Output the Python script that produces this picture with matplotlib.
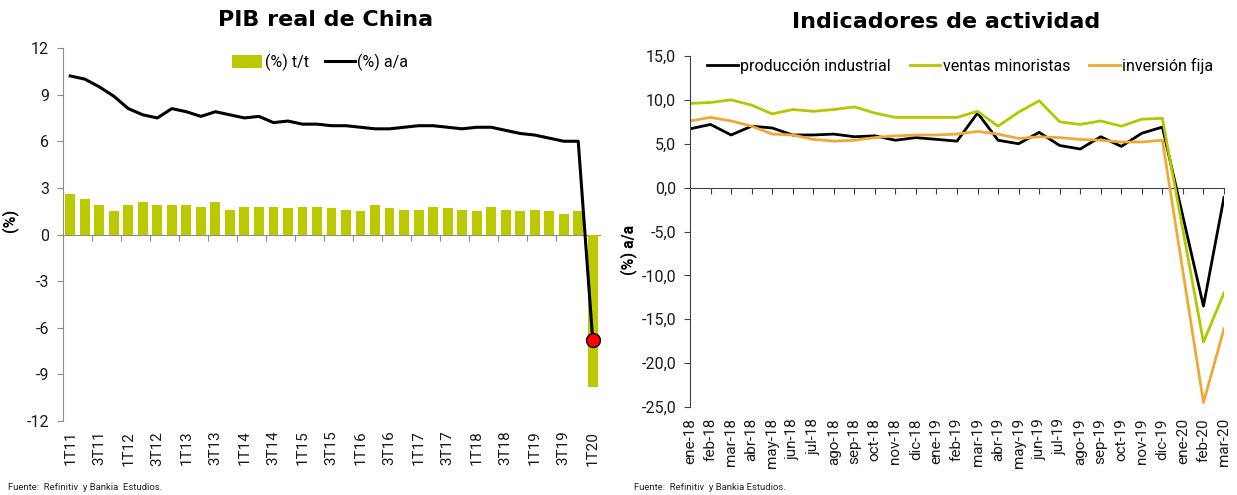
import matplotlib
matplotlib.use('Agg')
import matplotlib.pyplot as plt
import numpy as np

plt.rcParams['font.family'] = ['Roboto', 'DejaVu Sans']

# ---------------- data: left chart ----------------
quarters = ['1T11', '2T11', '3T11', '4T11', '1T12', '2T12', '3T12', '4T12',
            '1T13', '2T13', '3T13', '4T13', '1T14', '2T14', '3T14', '4T14',
            '1T15', '2T15', '3T15', '4T15', '1T16', '2T16', '3T16', '4T16',
            '1T17', '2T17', '3T17', '4T17', '1T18', '2T18', '3T18', '4T18',
            '1T19', '2T19', '3T19', '4T19', '1T20']
gdp_qoq = [2.6, 2.3, 1.9, 1.5, 1.9, 2.1, 1.9, 1.9, 1.9, 1.8, 2.1, 1.6,
           1.8, 1.8, 1.8, 1.7, 1.8, 1.8, 1.7, 1.6, 1.5, 1.9, 1.7, 1.6,
           1.6, 1.8, 1.7, 1.6, 1.5, 1.8, 1.6, 1.5, 1.6, 1.5, 1.3, 1.5, -9.8]
gdp_yoy = [10.2, 10.0, 9.5, 8.9, 8.1, 7.7, 7.5, 8.1, 7.9, 7.6, 7.9, 7.7,
           7.5, 7.6, 7.2, 7.3, 7.1, 7.1, 7.0, 7.0, 6.9, 6.8, 6.8, 6.9,
           7.0, 7.0, 6.9, 6.8, 6.9, 6.9, 6.7, 6.5, 6.4, 6.2, 6.0, 6.0, -6.8]
left_yticks = [-12, -9, -6, -3, 0, 3, 6, 9, 12]

# ---------------- data: right chart ----------------
months = ['ene-18', 'feb-18', 'mar-18', 'abr-18', 'may-18', 'jun-18', 'jul-18',
          'ago-18', 'sep-18', 'oct-18', 'nov-18', 'dic-18', 'ene-19', 'feb-19',
          'mar-19', 'abr-19', 'may-19', 'jun-19', 'jul-19', 'ago-19', 'sep-19',
          'oct-19', 'nov-19', 'dic-19', 'ene-20', 'feb-20', 'mar-20']
prod_industrial = [6.7, 7.2, 6.0, 7.0, 6.8, 6.0, 6.0, 6.1, 5.8, 5.9, 5.4, 5.7,
                   5.5, 5.3, 8.5, 5.4, 5.0, 6.3, 4.8, 4.4, 5.8, 4.7, 6.2, 6.9,
                   np.nan, -13.5, -1.1]
ventas_minoristas = [9.6, 9.7, 10.0, 9.4, 8.4, 8.9, 8.7, 8.9, 9.2, 8.5, 8.0, 8.0,
                     8.0, 8.0, 8.7, 7.0, 8.6, 9.9, 7.5, 7.2, 7.6, 7.0, 7.8, 7.9,
                     np.nan, -17.6, -12.0]
inversion_fija = [7.6, 8.0, 7.6, 7.0, 6.1, 6.0, 5.5, 5.3, 5.4, 5.7, 5.9, 6.0,
                  6.0, 6.1, 6.4, 6.1, 5.6, 5.8, 5.7, 5.5, 5.4, 5.2, 5.2, 5.4,
                  np.nan, -24.5, -16.1]
right_yticks = [-25, -20, -15, -10, -5, 0, 5, 10, 15]

GREEN_BAR = '#BDC900'
GREEN_LINE = '#B2C800'
ORANGE = '#EFA936'
TICK_FS = 10.5
TITLE_FONT = ['DejaVu Sans']

fig = plt.figure(figsize=(12.37, 4.95), dpi=100)

# ================= LEFT =================
axl = fig.add_axes([63/1237, 1 - 421/495, 537/1237, 373/495])
xq = np.arange(len(quarters))
bars = axl.bar(xq, gdp_qoq, width=0.68, color=GREEN_BAR, label='(%) t/t', zorder=2)
line, = axl.plot(xq, gdp_yoy, color='black', lw=2.2, label='(%) a/a', zorder=3)
axl.plot(xq[-1:], gdp_yoy[-1:], 'o', ms=10, mfc='#FF0000', mec='black',
         mew=1.0, zorder=4)
axl.set_xlim(-0.5, len(quarters) - 0.5)
axl.set_ylim(-12, 12)
axl.set_yticks(left_yticks)
axl.set_yticklabels([str(v) for v in left_yticks])
axl.set_xticks(xq[::2])
axl.set_xticklabels(quarters[::2], rotation=90)
for s in ['top', 'right', 'bottom']:
    axl.spines[s].set_visible(False)
axl.spines['left'].set_color('#8C8C8C')
axl.tick_params(axis='x', length=0, pad=7, labelsize=TICK_FS + 0.5, colors='#1a1a1a')
axl.tick_params(axis='y', length=4, direction='out', color='#8C8C8C',
                labelsize=TICK_FS + 1, pad=6, labelcolor='#1a1a1a')
secl = axl.secondary_xaxis(0, transform=axl.transData)
secl.set_alignment('bottom')
secl.set_xticks(xq[1:-1:2] + 0.5)
secl.set_xticklabels([])
secl.tick_params(axis='x', length=4, direction='out', color='#8C8C8C')
secl.spines['bottom'].set_color('#8C8C8C')
axl.set_ylabel('(%)', fontweight='bold', fontsize=11.5)
axl.yaxis.set_label_coords(-0.084, 0.539)
axl.legend([bars, line], ['(%) t/t', '(%) a/a'], loc='center',
           bbox_to_anchor=(0.479, 0.962), ncol=2, frameon=False,
           fontsize=11.5, handlelength=1.9, handleheight=0.8, handletextpad=0.15,
           columnspacing=1.0, borderaxespad=0)
fig.text(326/1237, 1 - 20/495, 'PIB real de China', ha='center', va='center',
         fontsize=16, fontweight='bold', family=TITLE_FONT)
fig.text(8/1237, 1 - 487/495, 'Fuente:  Refinitiv  y Bankia  Estudios.',
         ha='left', va='center', fontsize=6.8, color='#222222')

# ================= RIGHT =================
axr = fig.add_axes([690/1237, 1 - 407/495, 534/1237, 351/495])
xm = np.arange(len(months))
for vals, col, lab in [(prod_industrial, 'black', 'producción industrial'),
                       (ventas_minoristas, GREEN_LINE, 'ventas minoristas'),
                       (inversion_fija, ORANGE, 'inversión fija')]:
    arr = np.asarray(vals, dtype=float)
    m = ~np.isnan(arr)
    axr.plot(xm[m], arr[m], color=col, lw=2.0, label=lab)
axr.set_xlim(0, len(months) - 1)
axr.set_ylim(-25, 15)
axr.set_yticks(right_yticks)
axr.set_yticklabels([f'{v:.1f}'.replace('.', ',') for v in right_yticks])
axr.set_xticks(xm)
axr.set_xticklabels(months, rotation=90)
for s in ['top', 'right', 'bottom']:
    axr.spines[s].set_visible(False)
axr.spines['left'].set_color('#404040')
axr.tick_params(axis='x', length=0, pad=8, labelsize=TICK_FS + 0.5, colors='#1a1a1a')
axr.tick_params(axis='y', length=4, direction='out', color='#404040',
                labelsize=TICK_FS + 1, pad=6, labelcolor='#1a1a1a')
secr = axr.secondary_xaxis(0, transform=axr.transData)
secr.set_alignment('bottom')
secr.set_xticks(xm[1:])
secr.set_xticklabels([])
secr.tick_params(axis='x', length=4, direction='out', color='#404040')
secr.spines['bottom'].set_color('#404040')
axr.set_ylabel('(%) a/a', fontweight='bold', fontsize=11.5)
axr.yaxis.set_label_coords(-0.099, 0.447)
axr.legend(loc='center', bbox_to_anchor=(0.506, 0.9715), ncol=3, frameon=False,
           fontsize=11.5, handlelength=1.9, handletextpad=0.15,
           columnspacing=1.2, borderaxespad=0)
fig.text(946/1237, 1 - 22/495, 'Indicadores de actividad', ha='center',
         va='center', fontsize=16, fontweight='bold', family=TITLE_FONT)
fig.text(634/1237, 1 - 487/495, 'Fuente:  Refinitiv  y Bankia Estudios.',
         ha='left', va='center', fontsize=6.8, color='#222222')

fig.savefig('out.png', dpi=100)
